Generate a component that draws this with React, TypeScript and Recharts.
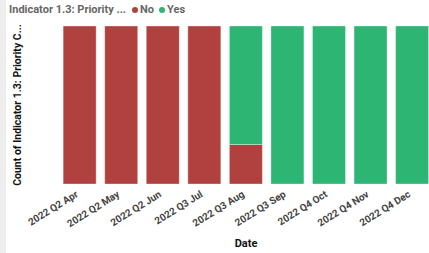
import { BarChart, Bar, XAxis, YAxis } from 'recharts';

const months = [
    '2022 Q2 Apr',
    '2022 Q2 May',
    '2022 Q2 Jun',
    '2022 Q3 Jul',
    '2022 Q3 Aug',
    '2022 Q3 Sep',
    '2022 Q4 Oct',
    '2022 Q4 Nov',
    '2022 Q4 Dec',
];
const noCounts = [1, 1, 1, 1, 1, 0, 0, 0, 0];
const yesCounts = [0, 0, 0, 0, 3, 1, 1, 1, 1];

const RED = '#b0413e';
const GREEN = '#2db573';

const data = months.map((m, i) => ({ month: m, No: noCounts[i], Yes: yesCounts[i] }));

const FONT = 'Roboto, "Noto Sans", sans-serif';

function AngledTick(props: any) {
    const { x, y, payload } = props;
    return (
        <g transform={`translate(${x - 1},${y + 12}) rotate(-32)`}>
            <text x={0} y={0} textAnchor="end" fill="#444" fontSize={10} fontWeight={700} fontFamily={FONT}>
                {payload.value}
            </text>
        </g>
    );
}

function TopLegend() {
    return (
        <div style={{ display: 'flex', alignItems: 'center', fontFamily: FONT, fontSize: 11, fontWeight: 700, color: '#666', whiteSpace: 'nowrap' }}>
            <span>Indicator 1.3: Priority ...</span>
            <span style={{ display: 'inline-block', width: 6, height: 6, borderRadius: 3, background: RED, marginLeft: 6, marginRight: 2 }}></span>
            <span>No</span>
            <span style={{ display: 'inline-block', width: 6, height: 6, borderRadius: 3, background: GREEN, marginLeft: 5, marginRight: 2 }}></span>
            <span>Yes</span>
        </div>
    );
}

export default function App() {
    return (
        <div style={{ position: 'absolute', left: 0, top: 0, width: 429, height: 253, overflow: 'hidden', background: '#fff' }}>
            {/* grey strip on the left edge */}
            <div style={{ position: 'absolute', left: 0, top: 0, width: 6, height: 253, background: '#eeeeee' }}></div>
            <div style={{ position: 'absolute', left: 9, top: 3 }}>
                <TopLegend />
            </div>
            <div style={{ position: 'absolute', left: 0, top: 0 }}>
                <BarChart
                    width={441}
                    height={253}
                    data={data}
                    stackOffset="expand"
                    barCategoryGap="10%"
                    margin={{ top: 26, right: 8, bottom: 0, left: 0 }}
                >
                    <XAxis
                        dataKey="month"
                        interval={0}
                        height={69}
                        tickLine={false}
                        axisLine={false}
                        tickSize={0}
                        tickMargin={0}
                        tick={<AngledTick />}
                        label={{ value: 'Date', position: 'insideBottom', offset: 6, fill: '#111', fontSize: 11, fontWeight: 700, fontFamily: FONT }}
                    />
                    <YAxis
                        width={59}
                        tick={false}
                        tickLine={false}
                        axisLine={false}
                        label={{
                            value: 'Count of Indicator 1.3: Priority C...',
                            angle: -90,
                            position: 'insideLeft',
                            offset: 17,
                            style: { textAnchor: 'middle' },
                            fill: '#111',
                            fontSize: 10.5,
                            fontWeight: 700,
                            fontFamily: FONT,
                        }}
                    />
                    <Bar dataKey="No" stackId="a" fill={RED} stroke="#ffffff" strokeOpacity={0.35} isAnimationActive={false} />
                    <Bar dataKey="Yes" stackId="a" fill={GREEN} stroke="#ffffff" strokeOpacity={0.35} isAnimationActive={false} />
                </BarChart>
            </div>
        </div>
    );
}
